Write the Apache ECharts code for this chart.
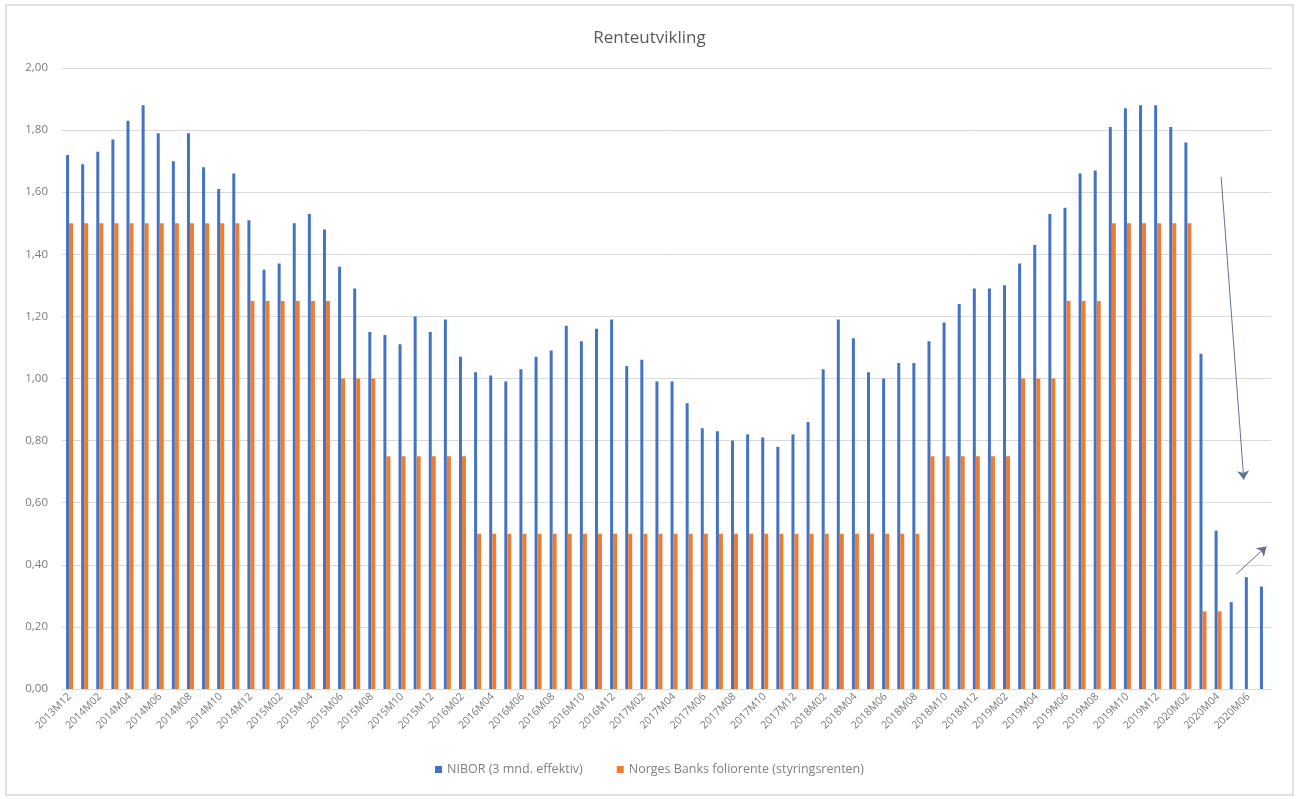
<!DOCTYPE html>
<html>
<head>
<meta charset="utf-8">
<script src="https://cdn.jsdelivr.net/npm/echarts@6/dist/echarts.min.js"></script>
<style>
html,body{margin:0;padding:0;background:#fff;}
#chart{width:1299px;height:799px;}
</style>
</head>
<body>
<div id="chart"></div>
<script>
const categories = [
  '2013M12',
  '2014M01','2014M02','2014M03','2014M04','2014M05','2014M06','2014M07','2014M08','2014M09','2014M10','2014M11','2014M12',
  '2015M01','2015M02','2015M03','2015M04','2015M05','2015M06','2015M07','2015M08','2015M09','2015M10','2015M11','2015M12',
  '2016M01','2016M02','2016M03','2016M04','2016M05','2016M06','2016M07','2016M08','2016M09','2016M10','2016M11','2016M12',
  '2017M01','2017M02','2017M03','2017M04','2017M05','2017M06','2017M07','2017M08','2017M09','2017M10','2017M11','2017M12',
  '2018M01','2018M02','2018M03','2018M04','2018M05','2018M06','2018M07','2018M08','2018M09','2018M10','2018M11','2018M12',
  '2019M01','2019M02','2019M03','2019M04','2019M05','2019M06','2019M07','2019M08','2019M09','2019M10','2019M11','2019M12',
  '2020M01','2020M02','2020M03','2020M04','2020M05','2020M06','2020M07'
];
const nibor = [
  1.72,
  1.69,1.73,1.77,1.83,1.88,1.79,1.70,1.79,1.68,1.61,1.66,1.51,
  1.35,1.37,1.50,1.53,1.48,1.36,1.29,1.15,1.14,1.11,1.20,1.15,
  1.19,1.07,1.02,1.01,0.99,1.03,1.07,1.09,1.17,1.12,1.16,1.19,
  1.04,1.06,0.99,0.99,0.92,0.84,0.83,0.80,0.82,0.81,0.78,0.82,
  0.86,1.03,1.19,1.13,1.02,1.00,1.05,1.05,1.12,1.18,1.24,1.29,
  1.29,1.30,1.37,1.43,1.53,1.55,1.66,1.67,1.81,1.87,1.88,1.88,
  1.81,1.76,1.08,0.51,0.28,0.36,0.33
];
const foliorente = [
  1.50,
  1.50,1.50,1.50,1.50,1.50,1.50,1.50,1.50,1.50,1.50,1.50,1.25,
  1.25,1.25,1.25,1.25,1.25,1.00,1.00,1.00,0.75,0.75,0.75,0.75,
  0.75,0.75,0.50,0.50,0.50,0.50,0.50,0.50,0.50,0.50,0.50,0.50,
  0.50,0.50,0.50,0.50,0.50,0.50,0.50,0.50,0.50,0.50,0.50,0.50,
  0.50,0.50,0.50,0.50,0.50,0.50,0.50,0.50,0.75,0.75,0.75,0.75,
  0.75,0.75,1.00,1.00,1.00,1.25,1.25,1.25,1.50,1.50,1.50,1.50,
  1.50,1.50,0.25,0.25,null,null,null
];
const seriesNames = ['NIBOR (3 mnd. effektiv)', 'Norges Banks foliorente (styringsrenten)'];
const yTicks = { min: 0, max: 2, interval: 0.2 };
// annotation arrows in (category index, value) space
const arrowDown = [[76.2, 1.65], [77.7, 0.674]];
const arrowUp = [[77.2, 0.37], [79.2, 0.459]];

const chart = echarts.init(document.getElementById('chart'), null, {renderer: 'canvas'});
const fontFam = '"Open Sans", "Liberation Sans", sans-serif';
chart.setOption({
  animation: false,
  backgroundColor: '#ffffff',
  title: {
    text: 'Renteutvikling',
    left: 'center',
    top: 25,
    textStyle: { fontFamily: fontFam, fontSize: 17, fontWeight: 'normal', color: '#595959' }
  },
  graphic: [{
    type: 'rect',
    shape: { x: 6, y: 5, width: 1287, height: 790 },
    style: { fill: 'none', stroke: '#d9d9d9', lineWidth: 1.5 },
    silent: true
  }],
  legend: {
    data: seriesNames,
    bottom: 18,
    left: 'center',
    itemWidth: 7,
    itemHeight: 7,
    itemGap: 34,
    icon: 'rect',
    textStyle: { fontFamily: fontFam, fontSize: 12.5, color: '#7f7f7f' }
  },
  grid: { left: 62, right: 28, top: 68, bottom: 110, containLabel: false },
  xAxis: [{
    type: 'category',
    data: categories,
    boundaryGap: true,
    axisLine: { lineStyle: { color: '#d9d9d9' } },
    axisTick: { show: false },
    axisLabel: {
      interval: 1,
      rotate: 45,
      margin: 6,
      fontFamily: fontFam,
      fontSize: 10.5,
      color: '#7a7a7a'
    }
  }, {
    type: 'value',
    min: -0.5,
    max: categories.length - 0.5,
    show: false
  }],
  yAxis: {
    type: 'value',
    min: yTicks.min,
    max: yTicks.max,
    interval: yTicks.interval,
    axisLine: { show: false },
    axisTick: { show: false },
    splitLine: { lineStyle: { color: '#d9d9d9', width: 1 } },
    axisLabel: {
      margin: 14,
      fontFamily: fontFam,
      fontSize: 11.5,
      color: '#7a7a7a',
      formatter: v => v.toFixed(2).replace('.', ',')
    }
  },
  series: [{
    name: seriesNames[0],
    type: 'bar',
    data: nibor,
    barWidth: 3,
    barGap: '0%',
    itemStyle: { color: '#4472C4' }
  }, {
    name: seriesNames[1],
    type: 'bar',
    data: foliorente,
    barWidth: 4,
    itemStyle: { color: '#ED7D31' }
  }, {
    type: 'lines',
    coordinateSystem: 'cartesian2d',
    xAxisIndex: 1,
    yAxisIndex: 0,
    symbol: ['none', 'arrow'],
    symbolSize: 9,
    silent: true,
    lineStyle: { color: '#5f7398', width: 1, opacity: 1 },
    data: [{ coords: arrowDown }, { coords: arrowUp }]
  }]
});
</script>
</body>
</html>
